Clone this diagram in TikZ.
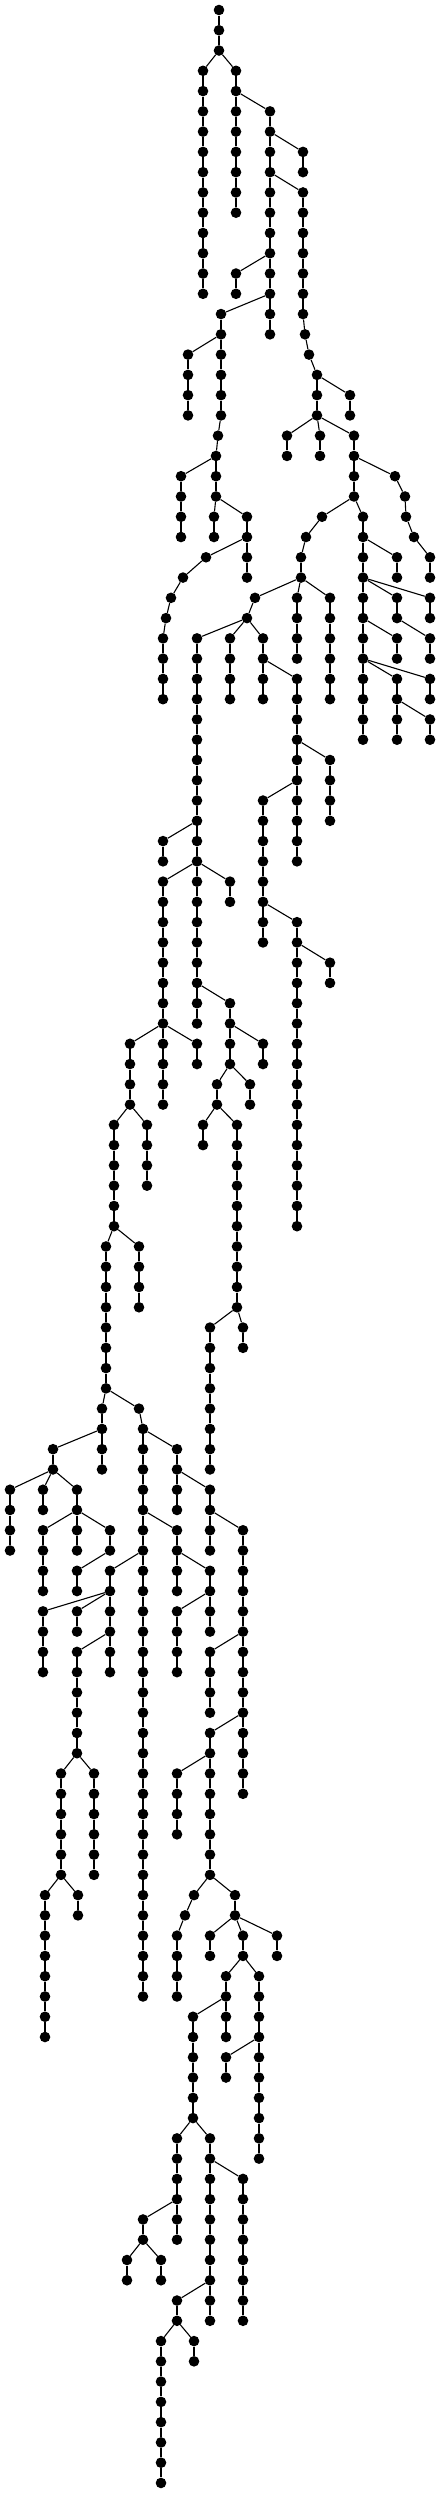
\documentclass[tikz,border=0pt]{standalone}
\usepackage{tikz}
\tikzset{
  dot/.style={circle,fill=black,inner sep=0pt,minimum size=10.6pt},
  edge/.style={draw=black,line width=1.1pt}
}
% chain: x, first row, last row, parent row, parent x
\newcommand\tchain[5]{%
  \foreach \r in {#2,...,#3}{%
    \node[dot] (n\r-#1) at (#1,{-10-20.27*\r}) {};
  }%
  \draw[edge] (n#4-#5) -- (n#2-#1);
  \foreach \r in {#2,...,#3}{%
    \ifnum\r>#2\relax
      \pgfmathtruncatemacro\prevrow{\r-1}%
      \draw[edge] (n\prevrow-#1) -- (n\r-#1);
    \fi
  }%
}
\begin{document}
\begin{tikzpicture}[x=1pt,y=1pt]
\fill[white] (0,0) rectangle (440,-2493);
\useasboundingbox (0,0) rectangle (440,-2493);
\foreach \r in {0,1,2}{\node[dot] (n\r-219) at (219,{-10-20.27*\r}) {};}
\draw[edge] (n0-219) -- (n1-219) -- (n2-219);
\tchain{203}{3}{14}{2}{219}
\tchain{236}{3}{10}{2}{219}
\tchain{270}{5}{16}{4}{236}
\tchain{236}{13}{14}{12}{270}
\tchain{303}{7}{8}{6}{270}
\tchain{303}{9}{15}{8}{270}
\tchain{305}{16}{16}{15}{303}
\tchain{309}{17}{17}{16}{305}
\tchain{317}{18}{20}{17}{309}
\tchain{350}{19}{20}{18}{317}
\tchain{287}{21}{22}{20}{317}
\tchain{320}{21}{22}{20}{317}
\tchain{354}{21}{24}{20}{317}
\tchain{395}{23}{23}{22}{354}
\tchain{405}{24}{24}{23}{395}
\tchain{406}{25}{25}{24}{405}
\tchain{414}{26}{26}{25}{406}
\tchain{430}{27}{28}{26}{414}
\tchain{322}{25}{25}{24}{354}
\tchain{306}{26}{26}{25}{322}
\tchain{301}{27}{28}{26}{306}
\tchain{255}{29}{29}{28}{301}
\tchain{247}{30}{30}{29}{255}
\tchain{297}{29}{32}{28}{301}
\tchain{330}{29}{34}{28}{301}
\tchain{197}{31}{50}{30}{247}
\tchain{230}{31}{34}{30}{247}
\tchain{263}{31}{34}{30}{247}
\tchain{297}{33}{42}{32}{263}
\tchain{330}{37}{40}{36}{297}
\tchain{263}{39}{46}{38}{297}
\tchain{297}{45}{60}{44}{263}
\tchain{330}{47}{48}{46}{297}
\tchain{163}{41}{42}{40}{197}
\tchain{163}{43}{54}{42}{197}
\tchain{230}{43}{44}{42}{197}
\tchain{230}{49}{52}{48}{197}
\tchain{263}{51}{52}{50}{230}
\tchain{217}{53}{54}{52}{230}
\tchain{250}{53}{54}{52}{230}
\tchain{203}{55}{56}{54}{217}
\tchain{237}{55}{64}{54}{217}
\tchain{210}{65}{72}{64}{237}
\tchain{243}{65}{66}{64}{237}
\tchain{130}{51}{54}{50}{163}
\tchain{197}{51}{52}{50}{163}
\tchain{114}{55}{60}{54}{130}
\tchain{147}{55}{58}{54}{130}
\tchain{106}{61}{68}{60}{114}
\tchain{139}{61}{64}{60}{114}
\tchain{102}{69}{72}{68}{106}
\tchain{139}{69}{69}{68}{106}
\tchain{143}{70}{98}{69}{139}
\tchain{177}{71}{74}{70}{143}
\tchain{210}{73}{76}{72}{177}
\tchain{243}{75}{88}{74}{210}
\tchain{210}{81}{84}{80}{243}
\tchain{210}{85}{92}{84}{243}
\tchain{177}{87}{90}{86}{210}
\tchain{194}{93}{93}{92}{210}
\tchain{185}{94}{94}{93}{194}
\tchain{177}{95}{98}{94}{185}
\tchain{235}{93}{94}{92}{210}
\tchain{210}{95}{96}{94}{235}
\tchain{243}{95}{96}{94}{235}
\tchain{277}{95}{96}{94}{235}
\tchain{226}{97}{100}{96}{243}
\tchain{259}{97}{106}{96}{243}
\tchain{226}{101}{102}{100}{259}
\tchain{193}{99}{104}{98}{226}
\tchain{177}{105}{110}{104}{193}
\tchain{210}{105}{114}{104}{193}
\tchain{243}{107}{114}{106}{210}
\tchain{143}{109}{110}{108}{177}
\tchain{127}{111}{112}{110}{143}
\tchain{161}{111}{112}{110}{143}
\tchain{177}{113}{114}{112}{210}
\tchain{161}{115}{122}{114}{177}
\tchain{194}{115}{116}{114}{177}
\tchain{177}{75}{78}{74}{143}
\tchain{210}{77}{80}{76}{177}
\tchain{177}{79}{82}{78}{210}
\tchain{110}{77}{82}{76}{143}
\tchain{43}{79}{82}{78}{110}
\tchain{77}{79}{80}{78}{110}
\tchain{77}{81}{86}{80}{110}
\tchain{61}{87}{92}{86}{77}
\tchain{94}{87}{92}{86}{77}
\tchain{45}{93}{100}{92}{61}
\tchain{78}{93}{94}{92}{61}
\tchain{53}{71}{72}{70}{102}
\tchain{10}{73}{76}{72}{53}
\tchain{43}{73}{74}{72}{53}
\tchain{77}{73}{76}{72}{53}
\tchain{43}{75}{78}{74}{77}
\tchain{110}{75}{76}{74}{77}
\tchain{77}{77}{78}{76}{110}
\tchain{363}{25}{36}{24}{354}
\tchain{397}{27}{28}{26}{363}
\tchain{397}{29}{30}{28}{363}
\tchain{430}{29}{30}{28}{363}
\tchain{397}{31}{32}{30}{363}
\tchain{430}{31}{32}{30}{397}
\tchain{397}{33}{36}{32}{363}
\tchain{430}{33}{34}{32}{363}
\tchain{430}{35}{36}{34}{397}
\tchain{221}{15}{20}{14}{270}
\tchain{188}{17}{20}{16}{221}
\tchain{218}{21}{21}{20}{221}
\tchain{216}{22}{24}{21}{218}
\tchain{181}{23}{26}{22}{216}
\tchain{214}{25}{26}{24}{216}
\tchain{247}{25}{28}{24}{216}
\tchain{206}{27}{27}{26}{247}
\tchain{183}{28}{28}{27}{206}
\tchain{171}{29}{29}{28}{183}
\tchain{166}{30}{30}{29}{171}
\tchain{163}{31}{34}{30}{166}
\end{tikzpicture}
\end{document}
